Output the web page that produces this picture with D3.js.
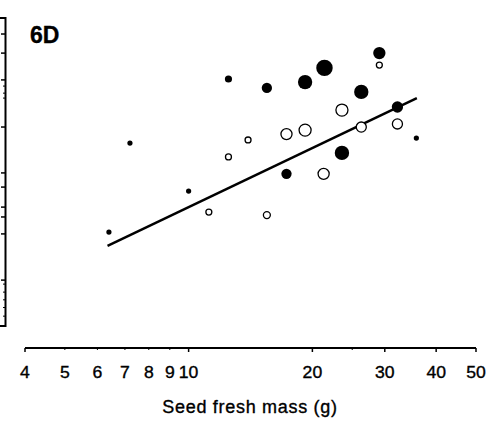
<!DOCTYPE html>
<html>
<head>
<meta charset="utf-8">
<script src="https://cdn.jsdelivr.net/npm/d3@7"></script>
<style>
  body { margin: 0; background: white; }
  svg text { font-family: Arial, "Liberation Sans", sans-serif; fill: black; stroke: black; stroke-width: 0.35px; }
</style>
</head>
<body>
<div id="chart"></div>
<script>

// seed mass (g), response, bubble size
var filled_mass = [6.40, 7.20, 10.0, 12.5, 15.5, 19.2, 21.4, 29.1, 26.3, 23.6, 17.3, 32.2, 35.8];
var filled_resp = [30.5, 59.4, 43.8, 80.2, 77.3, 79.2, 83.8, 88.6, 76.0, 56.2, 49.4, 71.1, 61.0];
var filled_size = [9, 9, 9, 17, 35, 68, 89, 50, 68, 68, 35, 42, 9];

var open_mass = [11.2, 12.5, 13.95, 15.5, 17.3, 19.2, 23.6, 26.3, 32.2, 29.1, 21.3];
var open_resp = [37.0, 54.9, 60.4, 36.0, 62.3, 63.6, 70.1, 64.6, 65.6, 84.7, 49.4];
var open_size = [17, 17, 17, 22, 50, 58, 58, 42, 42, 17, 50];

var fit_mass = [6.35, 35.9];
var fit_resp = [26.0, 74.0];

var x_major = [4, 10, 20, 30, 40, 50];
var x_labels = ["4", "5", "6", "7", "8", "9", "10", "20", "30", "40", "50"];
var x_minor = [5, 6, 7, 8, 9, 25];
var y_major = [94.8, 88.6, 79.9, 64.6, 49.7, 45.1, 38.6, 35.4, 29.9, 14.9];
var y_minor = [77.9, 75.6, 74.0, 13.6, 11.0, 8.5, 6.0, 3.2];

var width = 492, height = 421;

var svg = d3.select("#chart")
  .append("svg")
  .attr("width", width)
  .attr("height", height);

var x = d3.scaleLog()
  .domain([4, 50])
  .range([25, 476]);

var y = d3.scaleLinear()
  .domain([0, 100])
  .range([326, 18]);

var size = d3.scaleSqrt()
  .domain([0, 100])
  .range([0, 8.7]);

// x axis
var x_axis_y = 348;
svg.append("line")
  .attr("x1", x(4)).attr("x2", x(50))
  .attr("y1", x_axis_y).attr("y2", x_axis_y)
  .attr("stroke", "black").attr("stroke-width", 2);

svg.selectAll(".xmajor")
  .data(x_major)
  .enter()
  .append("line")
    .attr("x1", d => x(d)).attr("x2", d => x(d))
    .attr("y1", x_axis_y).attr("y2", x_axis_y + 4)
    .attr("stroke", "black").attr("stroke-width", 1.5);

svg.selectAll(".xminor")
  .data(x_minor)
  .enter()
  .append("line")
    .attr("x1", d => x(d)).attr("x2", d => x(d))
    .attr("y1", x_axis_y).attr("y2", x_axis_y + 2)
    .attr("stroke", "black").attr("stroke-width", 1);

svg.selectAll(".xlab")
  .data(x_labels)
  .enter()
  .append("text")
    .attr("transform", d => "translate(" + x(+d) + ",378) scale(1.1,1)")
    .attr("text-anchor", "middle")
    .style("font-size", "16px")
    .text(d => d);

svg.append("text")
  .attr("x", 250)
  .attr("y", 413)
  .attr("text-anchor", "middle")
  .style("font-size", "18px")
  .style("letter-spacing", "0.7px")
  .text("Seed fresh mass (g)");

// y axis (cut off at the left edge)
svg.append("path")
  .attr("d", "M0," + y(100) + "H5.5V" + y(0) + "H0")
  .attr("fill", "none")
  .attr("stroke", "black").attr("stroke-width", 2);

svg.selectAll(".ymajor")
  .data(y_major)
  .enter()
  .append("line")
    .attr("x1", 1).attr("x2", 5.5)
    .attr("y1", d => y(d)).attr("y2", d => y(d))
    .attr("stroke", "black").attr("stroke-width", 1.5);

svg.selectAll(".yminor")
  .data(y_minor)
  .enter()
  .append("line")
    .attr("x1", 3).attr("x2", 5.5)
    .attr("y1", d => y(d)).attr("y2", d => y(d))
    .attr("stroke", "black").attr("stroke-width", 1);

svg.append("text")
  .attr("x", 30)
  .attr("y", 43)
  .style("font-size", "23px")
  .style("font-weight", "bold")
  .text("6D");

// regression line
var fit = d3.line()
  .x(d => x(d[0]))
  .y(d => y(d[1]));

svg.append("path")
  .datum(d3.zip(fit_mass, fit_resp))
  .attr("d", fit)
  .attr("fill", "none")
  .attr("stroke", "black")
  .attr("stroke-width", 2.5);

// open circles
svg.selectAll(".open")
  .data(d3.zip(open_mass, open_resp, open_size))
  .enter()
  .append("circle")
    .attr("cx", d => x(d[0]))
    .attr("cy", d => y(d[1]))
    .attr("r", d => size(d[2]) - 0.6)
    .attr("fill", "white")
    .attr("stroke", "black")
    .attr("stroke-width", 1.3);

// filled circles
svg.selectAll(".filled")
  .data(d3.zip(filled_mass, filled_resp, filled_size))
  .enter()
  .append("circle")
    .attr("cx", d => x(d[0]))
    .attr("cy", d => y(d[1]))
    .attr("r", d => size(d[2]))
    .attr("fill", "black");

</script>
</body>
</html>
